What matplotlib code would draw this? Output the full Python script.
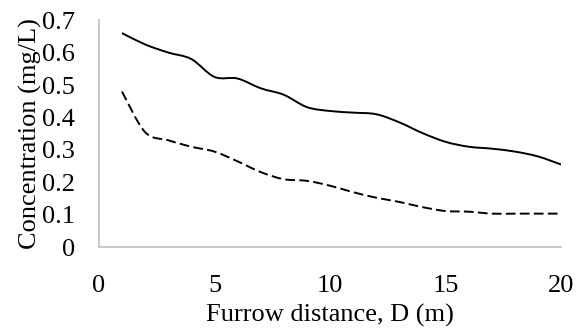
import numpy as np
import matplotlib.pyplot as plt
from matplotlib.path import Path
from matplotlib.patches import PathPatch

plt.rcParams['font.family'] = ['Liberation Serif', 'DejaVu Serif']

distance = [1, 2, 3, 4, 5, 6, 7, 8, 9, 10, 11, 12, 13, 14, 15, 16, 17, 18, 19, 20]
conc_solid = [0.66, 0.625, 0.60, 0.58, 0.525, 0.52, 0.49, 0.47, 0.432, 0.42,
              0.415, 0.41, 0.385, 0.352, 0.325, 0.31, 0.304, 0.295, 0.28, 0.255]
conc_dashed = [0.48, 0.355, 0.33, 0.31, 0.295, 0.265, 0.232, 0.21, 0.205, 0.19,
               0.17, 0.153, 0.14, 0.124, 0.112, 0.11, 0.104, 0.104, 0.104, 0.104]
xticks = [0, 5, 10, 15, 20]
yticks = [0, 0.1, 0.2, 0.3, 0.4, 0.5, 0.6, 0.7]
ytick_labels = ['0', '0.1', '0.2', '0.3', '0.4', '0.5', '0.6', '0.7']


def smooth_path(x, y):
    # excel-style smoothed line: cubic bezier segments through the points
    p = np.column_stack([x, y]).astype(float)
    n = len(p)
    verts = [p[0]]
    codes = [Path.MOVETO]
    for i in range(n - 1):
        prev = p[i - 1] if i > 0 else p[i]
        nxt = p[i + 2] if i + 2 < n else p[i + 1]
        c1 = p[i] + (p[i + 1] - prev) / 6
        c2 = p[i + 1] - (nxt - p[i]) / 6
        verts += [c1, c2, p[i + 1]]
        codes += [Path.CURVE4] * 3
    return Path(verts, codes)


fig = plt.figure(figsize=(5.78, 3.29), dpi=100)
ax = fig.add_axes([0.171, 0.248, 0.80, 0.691])

ax.add_patch(PathPatch(smooth_path(distance, conc_solid), fill=False,
                       edgecolor='black', lw=1.4, capstyle='butt'))
ax.add_patch(PathPatch(smooth_path(distance, conc_dashed), fill=False,
                       edgecolor='black', lw=1.4, linestyle=(0, (5, 2.2))))

ax.set_xlim(0, 20)
ax.set_ylim(0, 0.7)
ax.set_xticks(xticks)
ax.set_yticks(yticks)
ax.set_yticklabels(ytick_labels)
ax.tick_params(axis='both', length=0, labelsize=19)
ax.tick_params(axis='x', pad=20)
ax.tick_params(axis='y', pad=17)

for s in ['top', 'right']:
    ax.spines[s].set_visible(False)
for s in ['left', 'bottom']:
    ax.spines[s].set_color('#BFBFBF')
    ax.spines[s].set_linewidth(1.2)

ax.set_xlabel('Furrow distance, D (m)', fontsize=19, labelpad=5)
ax.set_ylabel('Concentration (mg/L)', fontsize=19, labelpad=0)

fig.savefig('out.png', dpi=100)
